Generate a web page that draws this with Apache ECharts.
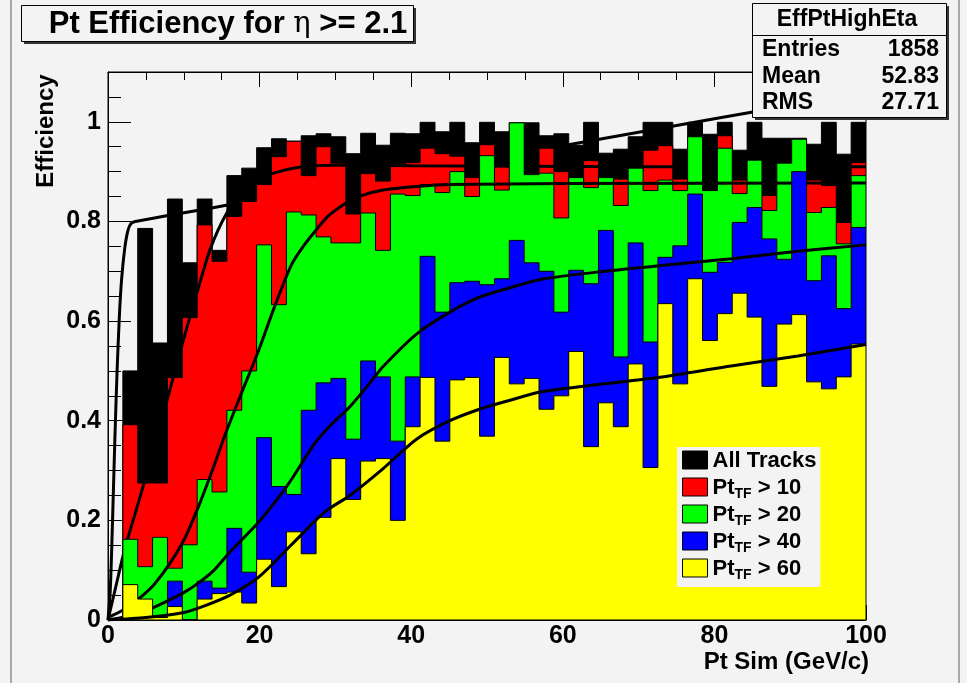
<!DOCTYPE html>
<html><head><meta charset="utf-8">
<script src="https://cdn.jsdelivr.net/npm/echarts@6/dist/echarts.min.js"></script>
<style>html,body{margin:0;padding:0;background:#f3f3f3}#c{width:967px;height:683px}</style>
</head><body><div id="c"></div>
<script>
// Histogram: 51 bins spanning 0..100 GeV/c
const X_MIN = 0, X_MAX = 100, N_BINS = 51;
const BIN_W = (X_MAX - X_MIN) / N_BINS;

const allTracks = [0,0.50,0.786,0.556,0.845,0.717,0.845,0.742,0.892,0.907,
  0.948,0.966,0.961,0.972,0.976,0.97,0.936,0.977,0.953,0.977,
  0.976,0.999,0.98,0.999,0.958,0.999,0.98,0.998,0.998,0.972,
  0.976,0.953,0.999,0.937,0.945,0.97,0.999,0.999,0.945,0.999,
  0.975,0.999,0.943,0.999,0.967,0.967,0.967,0.955,0.999,0.935,0.999];
const ptTF10 = [0,0.392,0.275,0.275,0.487,0.607,0.793,0.72,0.81,0.84,
  0.874,0.93,0.961,0.892,0.95,0.917,0.815,0.896,0.881,0.915,
  0.918,0.947,0.936,0.931,0.888,0.954,0.914,0.93,0.89,0.947,
  0.90,0.88,0.922,0.88,0.885,0.90,0.943,0.952,0.885,0.95,
  0.85,0.972,0.883,0.92,0.852,0.91,0.96,0.883,0.872,0.798,0.918];
const ptTF20 = [0,0.162,0.107,0.166,0.104,0.151,0.282,0.257,0.421,0.50,
  0.753,0.633,0.819,0.813,0.769,0.757,0.757,0.817,0.742,0.855,
  0.852,0.874,0.858,0.90,0.85,0.932,0.863,0.998,0.894,0.897,
  0.807,0.888,0.868,0.888,0.832,0.907,0.862,0.883,0.862,0.97,
  0.862,0.947,0.856,0.923,0.822,0.917,0.965,0.818,0.828,0.755,0.892];
const ptTF40 = [0,0,0,0,0.078,0,0.078,0.064,0.184,0.096,
  0.366,0.268,0.252,0.421,0.476,0.485,0.363,0.52,0.488,0.359,
  0.488,0.73,0.618,0.677,0.68,0.673,0.685,0.762,0.717,0.70,
  0.618,0.702,0.675,0.782,0.528,0.757,0.558,0.728,0.751,0.855,
  0.698,0.718,0.798,0.828,0.765,0.724,0.90,0.681,0.731,0.625,0.788];
const ptTF60 = [0,0.071,0.042,0.005,0.027,0,0.042,0.053,0.056,0.034,
  0.122,0.067,0.177,0.133,0.206,0.324,0.242,0.319,0.324,0.20,
  0.388,0.487,0.359,0.482,0.487,0.369,0.527,0.474,0.485,0.423,
  0.45,0.539,0.348,0.436,0.388,0.514,0.306,0.635,0.474,0.685,
  0.561,0.615,0.656,0.608,0.469,0.594,0.613,0.478,0.464,0.488,0.554];

// Fit curves: [pt, efficiency]
const fitAll = [[0,0],[0.3,0.06],[0.6,0.2],[0.9,0.36],[1.2,0.5],[1.5,0.61],[1.8,0.685],
  [2.2,0.745],[2.6,0.78],[3.0,0.795],[3.6,0.80],[20,0.844],[40,0.899],[60,0.952],[80,1.006],[100,1.06]];
const fit10 = [[0,0],[1,0.065],[2.24,0.144],[4,0.235],[6,0.34],[7.7,0.436],[10,0.565],[11.7,0.655],
  [13.5,0.745],[15.6,0.815],[17.6,0.855],[19.5,0.88],[21.6,0.896],[25.6,0.91],[30,0.913],[40,0.912],[70,0.91],[100,0.91]];
const fit20 = [[0,0.005],[2,0.02],[4,0.042],[6,0.07],[8,0.11],[10,0.16],[12,0.23],[14,0.31],[15.4,0.37],
  [17.6,0.455],[19.8,0.538],[22,0.63],[24.2,0.713],[26,0.755],[27.3,0.78],[29,0.81],[31.2,0.835],
  [33,0.85],[36.3,0.863],[40.7,0.87],[45,0.874],[60,0.876],[100,0.877]];
const fit40 = [[0,0],[4,0.012],[6.7,0.03],[10,0.055],[12,0.075],[14,0.1],[16,0.135],[19.8,0.195],
  [22.7,0.25],[24.2,0.282],[27.3,0.355],[29.3,0.39],[31.9,0.428],[34.6,0.477],[36.3,0.509],
  [40.7,0.574],[45.1,0.618],[49,0.648],[52.8,0.666],[57.2,0.684],[65.5,0.70],[74,0.713],
  [82.2,0.725],[91,0.74],[100,0.753]];
const fit60 = [[0,0],[5,0.005],[10,0.015],[13,0.03],[16.1,0.05],[19.8,0.085],[24.2,0.151],[28.6,0.217],
  [31.9,0.25],[36.3,0.304],[40.7,0.363],[45.1,0.40],[49,0.423],[52.8,0.44],[57.2,0.458],
  [65.5,0.474],[74,0.49],[82.2,0.51],[91,0.53],[100,0.553]];

const seriesNames = ['All Tracks','Pt_TF > 10','Pt_TF > 20','Pt_TF > 40','Pt_TF > 60'];
const legendLabels = ['{m|All Tracks}','{m|Pt}{s|TF}{m| > 10}','{m|Pt}{s|TF}{m| > 20}','{m|Pt}{s|TF}{m| > 40}','{m|Pt}{s|TF}{m| > 60}'];
const xTickLabels = ['0','20','40','60','80','100'];
const yTickLabels = ['0','0.2','0.4','0.6','0.8','1'];
const stats = {name:'EffPtHighEta', rows:[['Entries','1858'],['Mean','52.83'],['RMS','27.71']]};

const FONT = 'Liberation Sans, Arial, Helvetica, sans-serif';
const BG = '#f3f3f3';

function histSeries(name, values, color, z) {
  return {
    name, type: 'custom', z, silent: true, clip: true,
    itemStyle: {color},
    data: values.map((v, i) => [X_MIN + i * BIN_W, X_MIN + (i + 1) * BIN_W, v]),
    encode: {x: [0, 1], y: 2},
    renderItem: function (params, api) {
      if (params.dataIndex !== 0) return null;
      const pts = [api.coord([X_MIN, 0])];
      values.forEach(function (v, i) {
        pts.push(api.coord([X_MIN + i * BIN_W, v]));
        pts.push(api.coord([X_MIN + (i + 1) * BIN_W, v]));
      });
      pts.push(api.coord([X_MAX, 0]));
      return {type: 'polygon', shape: {points: pts}, style: {fill: color, stroke: '#000', lineWidth: 1}};
    }
  };
}
function fitSeries(data, z) {
  return {type: 'line', data, z, silent: true, showSymbol: false, smooth: 0.25,
    lineStyle: {color: '#000', width: 3}, clip: true};
}

const tickStyle = {color: '#000', width: 1};
const labelStyle = {fontFamily: FONT, fontWeight: 'bold', fontSize: 25, color: '#000'};

const graphic = [
  // pad borders
  {type:'rect', shape:{x:10, y:0, width:2, height:683}, style:{fill:'#a8a8a8'}, z:100},
  {type:'rect', shape:{x:958, y:0, width:2, height:683}, style:{fill:'#a8a8a8'}, z:100},
  // title box with shadow
  {type:'rect', shape:{x:24, y:8, width:392, height:36}, style:{fill:'#333'}, z:100},
  {type:'rect', shape:{x:21.5, y:5.5, width:392, height:36}, style:{fill:BG, stroke:'#000', lineWidth:1}, z:101},
  {type:'text', x:228, y:24, z:102, style:{
    text:'{a|Pt Efficiency for }{b|η}{a| >= 2.1}', align:'center', verticalAlign:'middle',
    rich:{a:{fontFamily:FONT, fontWeight:'bold', fontSize:31, fill:'#000'},
          b:{fontFamily:'DejaVu Serif, serif', fontSize:29, fill:'#000'}}}},
  // stats box
  {type:'rect', shape:{x:755, y:6, width:194, height:114}, style:{fill:'#333'}, z:100},
  {type:'rect', shape:{x:752.5, y:3.5, width:194, height:114}, style:{fill:BG, stroke:'#000', lineWidth:1}, z:101},
  {type:'line', shape:{x1:752.5, y1:35.5, x2:946.5, y2:35.5}, style:{stroke:'#000', lineWidth:1}, z:102},
  {type:'text', x:847, y:20, z:102, style:{text:stats.name, align:'center', verticalAlign:'middle',
    font:'bold 23px ' + FONT, fill:'#000'}},
  // axis titles
  {type:'text', x:46, y:131, rotation:Math.PI/2, z:102, style:{text:'Efficiency', align:'center', verticalAlign:'middle',
    font:'bold 24px ' + FONT, fill:'#000'}},
  {type:'text', x:869, y:662, z:102, style:{text:'Pt Sim (GeV/c)', align:'right', verticalAlign:'middle',
    font:'bold 24px ' + FONT, fill:'#000'}}
];
stats.rows.forEach(function (r, i) {
  const y = 50 + i * 26.5;
  graphic.push({type:'text', x:762, y, z:102, style:{text:r[0], align:'left', verticalAlign:'middle', font:'bold 23px ' + FONT, fill:'#000'}});
  graphic.push({type:'text', x:939, y, z:102, style:{text:r[1], align:'right', verticalAlign:'middle', font:'bold 23px ' + FONT, fill:'#000'}});
});

const xAxisBase = {
  type:'value', min:X_MIN, max:X_MAX, interval:20,
  axisLine:{show:true, lineStyle:tickStyle},
  axisTick:{show:true, inside:true, length:15, lineStyle:tickStyle},
  minorTick:{show:true, splitNumber:4, length:8, lineStyle:tickStyle},
  splitLine:{show:false}, minorSplitLine:{show:false}
};

const option = {
  backgroundColor: BG,
  animation: false,
  grid: {left:108, right:101, top:72, bottom:63, show:true, borderColor:'#000', borderWidth:1, backgroundColor:BG},
  xAxis: [
    Object.assign({}, xAxisBase, {position:'bottom',
      axisLabel:{show:true, margin:4, ...labelStyle,
        formatter: function (v) { const k = Math.round(v / 20); return Math.abs(v - k * 20) < 1e-6 ? (xTickLabels[k] || '') : ''; }}}),
    Object.assign({}, xAxisBase, {position:'top', axisLabel:{show:false}})
  ],
  yAxis: {
    type:'value', min:0, max:1.1, interval:0.2,
    axisLine:{show:true, lineStyle:tickStyle},
    axisTick:{show:true, inside:true, length:23, lineStyle:tickStyle},
    minorTick:{show:true, splitNumber:4, length:13, lineStyle:tickStyle},
    splitLine:{show:false}, minorSplitLine:{show:false},
    axisLabel:{show:true, margin:7, ...labelStyle,
      formatter: function (v) { const k = Math.round(v / 0.2); return Math.abs(v - k * 0.2) < 1e-6 ? (yTickLabels[k] || '') : ''; }}
  },
  legend: {
    show:true, orient:'vertical', left:677, top:447, z:50,
    backgroundColor:BG, padding:[3,4,3,5], itemGap:1, itemWidth:25, itemHeight:18,
    icon:'rect', selectedMode:false,
    itemStyle:{borderColor:'#000', borderWidth:1},
    data: seriesNames,
    formatter: function (name) { return legendLabels[seriesNames.indexOf(name)]; },
    textStyle:{color:'#000', rich:{
      m:{fontFamily:FONT, fontWeight:'bold', fontSize:22, lineHeight:20, padding:[0,0,4,0], verticalAlign:'top', color:'#000'},
      s:{fontFamily:FONT, fontWeight:'bold', fontSize:14, lineHeight:14, padding:[10,0,0,0], verticalAlign:'top', color:'#000'}
    }}
  },
  graphic: graphic,
  series: [
    histSeries(seriesNames[0], allTracks, '#000000', 2),
    fitSeries(fitAll, 3),
    histSeries(seriesNames[1], ptTF10, '#ff0000', 4),
    fitSeries(fit10, 5),
    histSeries(seriesNames[2], ptTF20, '#00ff00', 6),
    fitSeries(fit20, 7),
    histSeries(seriesNames[3], ptTF40, '#0000ff', 8),
    fitSeries(fit40, 9),
    histSeries(seriesNames[4], ptTF60, '#ffff00', 10),
    fitSeries(fit60, 11)
  ]
};
const chart = echarts.init(document.getElementById('c'), null, {renderer:'canvas', width:967, height:683});
chart.setOption(option);
</script></body></html>
